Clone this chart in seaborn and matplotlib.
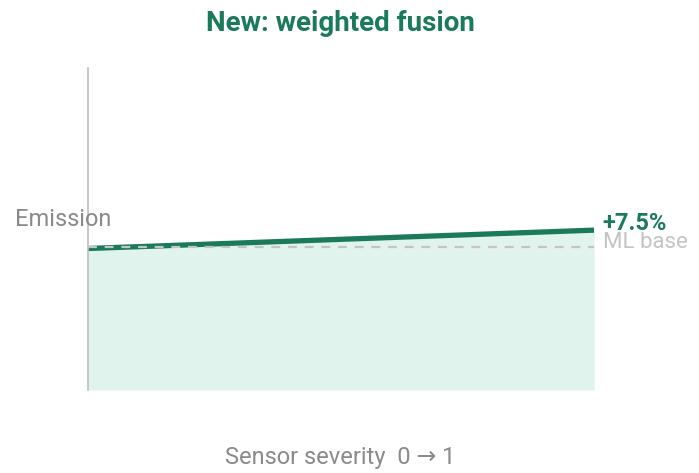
import matplotlib
matplotlib.use("Agg")
import matplotlib.pyplot as plt
import seaborn as sns
import pandas as pd

# Sensor severity (0 -> 1) and relative emission estimates
severity = [0.0, 1.0]
ml_base = [1.0, 1.0]
weighted_fusion = [0.994, 1.075]
gain_label = "+7.5%"

sns.set_theme(style="white")
plt.rcParams["font.family"] = ["Roboto", "DejaVu Sans"]

GREEN = "#1b7a5a"
FILL = "#e1f3ed"
GRAY = "#8a8a8a"
LIGHT = "#c4c4c4"

df = pd.DataFrame({"severity": severity, "base": ml_base, "fusion": weighted_fusion})

fig = plt.figure(figsize=(6.99, 4.73), dpi=100)
ax = fig.add_axes([0.1259, 0.1755, 0.7239, 0.6807])

y_lo, y_hi = 0.37, 1.79
ax.fill_between(df["severity"], y_lo, df["fusion"], color=FILL, lw=0, zorder=1)
sns.lineplot(data=df, x="severity", y="base", ax=ax, color=LIGHT, lw=1.6,
             linestyle=(0, (4, 3.5)), zorder=3)
sns.lineplot(data=df, x="severity", y="fusion", ax=ax, color=GREEN, lw=3.8,
             zorder=2, solid_capstyle="butt")

ax.set_xlim(0, 1)
ax.set_ylim(y_lo, y_hi)
ax.set_xticks([])
ax.set_yticks([])
ax.set_xlabel("")
ax.set_ylabel("")
for side in ["top", "right", "bottom"]:
    ax.spines[side].set_visible(False)
ax.spines["left"].set_color("#bdbdbd")
ax.spines["left"].set_linewidth(1.2)
ax.patch.set_alpha(0)

ax.text(-0.145, 1.07, "Emission", fontsize=17, color=GRAY,
        ha="left", va="bottom", zorder=4)
ax.text(1.017, df["fusion"].iloc[-1] + 0.03, gain_label, fontsize=17,
        fontweight="bold", color=GREEN, ha="left", va="center", zorder=5)
ax.text(1.017, df["base"].iloc[-1] + 0.02, "ML base", fontsize=16,
        color=LIGHT, ha="left", va="center", zorder=4)

fig.text(0.487, 0.951, "New: weighted fusion", fontsize=20, fontweight="bold",
         color=GREEN, ha="center", va="center")
fig.text(0.487, 0.032, "Sensor severity  0 \u2192 1", fontsize=17,
         color=GRAY, ha="center", va="center")

fig.savefig("out.png", dpi=100)
